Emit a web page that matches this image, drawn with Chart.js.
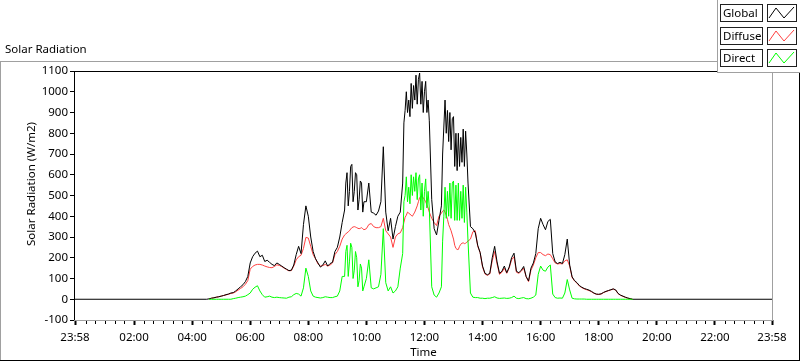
<!DOCTYPE html>
<html><head><meta charset="utf-8">
<script src="https://cdn.jsdelivr.net/npm/chart.js@4.4.0/dist/chart.umd.min.js"></script>
<style>html,body{margin:0;padding:0;background:#fff;overflow:hidden}#wrap{position:relative;width:800px;height:361px}</style>
</head><body><div id="wrap"><canvas id="c" width="800" height="361"></canvas></div>
<script>
const chartTitle = 'Solar Radiation';
const xTitle = 'Time';
const yTitle = 'Solar Radiation (W/m2)';
const seriesNames = ['Global', 'Diffuse', 'Direct'];
const seriesColors = ['#000000', '#ff4040', '#00ff00'];
const xTickMinutes = [-2, 120, 240, 360, 480, 600, 720, 840, 960, 1080, 1200, 1320, 1438];
const xTickLabels = ['23:58', '02:00', '04:00', '06:00', '08:00', '10:00', '12:00', '14:00', '16:00', '18:00', '20:00', '22:00', '23:58'];
const yMin = -100, yMax = 1100, yStep = 100;

// sample times, minutes after midnight (23:58 of the previous day = -2); one row per hour
const times = [-2,
  270, 275, 280, 285, 290, 295,
  300, 305, 310, 315, 320, 325, 330, 335, 340, 345, 350, 355,
  360, 365, 370, 375, 380, 385, 390, 395, 400, 405, 410, 415,
  420, 425, 430, 435, 440, 445, 450, 455, 460, 465, 470, 475,
  480, 485, 490, 495, 500, 505, 510, 515, 520, 525, 530, 535,
  540, 545, 550, 555, 557.5, 560, 562.5, 565, 567.5, 570, 572.5, 575, 577.5, 580, 582.5, 585, 587.5, 590, 592.5, 595,
  600, 605, 610, 615, 620, 625, 630, 635, 640, 645, 650, 655,
  660, 665, 670, 675, 677.5, 680, 682.5, 685, 687.5, 690, 692.5, 695, 697.5, 700, 702.5, 705, 707.5, 710, 712.5, 715, 717.5,
  720, 722.5, 725, 727.5, 730, 735, 740, 745, 750, 755, 757.5, 760, 762.5, 765, 767.5, 770, 772.5, 775, 777.5,
  780, 782.5, 785, 787.5, 790, 792.5, 795, 797.5, 800, 802.5, 805, 807.5, 810, 815, 820, 825, 830, 835,
  840, 845, 850, 855, 860, 865, 870, 875, 880, 885, 890, 895,
  900, 905, 910, 915, 920, 925, 930, 935, 940, 945, 950, 955,
  960, 965, 970, 975, 980, 985, 990, 995, 1000, 1005, 1010, 1015,
  1020, 1025, 1030, 1035, 1040, 1045, 1050, 1055, 1060, 1065, 1070, 1075,
  1080, 1085, 1090, 1095, 1100, 1105, 1110, 1115, 1120, 1125, 1130, 1135,
  1140, 1145, 1150,
  1438];

const globalRad = [0,
  0, 2, 5, 7, 10, 12,
  15, 18, 22, 25, 30, 32, 40, 50, 60, 70, 85, 110,
  175, 205, 222, 232, 205, 212, 182, 188, 178, 168, 162, 175,
  168, 160, 152, 145, 138, 140, 165, 215, 255, 220, 360, 450,
  400, 300, 230, 195, 175, 155, 165, 185, 160, 172, 178, 230,
  250, 300, 370, 430, 560, 610, 450, 520, 640, 650, 470, 520, 610, 600, 430, 480, 570, 560, 420, 470,
  470, 560, 420, 415, 405, 425, 470, 735, 420, 330, 390, 290,
  350, 400, 420, 560, 850, 910, 1000, 900, 960, 880, 1040, 920, 1030, 960, 1080, 940, 1060, 1090, 940, 1050, 900,
  1000, 1050, 900, 960, 860, 480, 340, 310, 380, 450, 700, 830, 960, 800, 910, 760, 900, 720, 870,
  880, 640, 800, 620, 800, 640, 780, 660, 820, 640, 810, 700, 560, 350, 340, 320, 260, 225,
  160, 125, 118, 125, 200, 255, 180, 125, 135, 160, 128, 155,
  200, 222, 135, 128, 140, 158, 110, 88, 150, 175, 220, 340,
  390, 360, 335, 375, 385, 220, 180, 172, 178, 172, 215, 290,
  165, 108, 90, 80, 66, 58, 52, 48, 44, 38, 30, 25,
  24, 26, 33, 38, 42, 46, 50, 45, 28, 20, 15, 10,
  6, 3, 0,
  0];

const diffuseRad = [null,
  null, 2, 5, 7, 10, 12,
  15, 18, 21, 24, 28, 30, 36, 44, 52, 60, 72, 90,
  145, 158, 165, 168, 168, 165, 160, 156, 153, 152, 158, 166,
  163, 158, 150, 143, 137, 138, 160, 190, 205, 212, 245, 298,
  295, 255, 215, 195, 170, 160, 162, 168, 160, 165, 175, 215,
  230, 255, 290, 310, 315, 320, 325, 330, 338, 345, 348, 350, 348, 345, 342, 340, 342, 345, 340, 335,
  340, 360, 365, 350, 345, 345, 350, 390, 330, 315, 300, 250,
  300, 315, 320, 345, 370, 395, 405, 420, 415, 410, 405, 400, 410, 420, 435, 450, 470, 490, 495, 495, 490,
  480, 470, 455, 440, 420, 390, 370, 355, 400, 415, 425, 430, 420, 405, 385, 360, 345, 330, 310,
  290, 260, 245, 240, 240, 255, 265, 270, 272, 268, 270, 275, 280, 290, 325, 330, 255, 225,
  155, 122, 115, 122, 185, 230, 170, 120, 130, 150, 125, 150,
  190, 205, 130, 125, 135, 150, 108, 85, 140, 165, 200, 225,
  225, 215, 210, 218, 215, 195, 175, 170, 172, 170, 185, 190,
  160, 105, 88, 78, 64, 56, 50, 46, 42, 36, 29, 24,
  23, 25, 32, 37, 41, 45, 49, 44, 27, 19, 14, 9,
  5, 2, 0,
  null];

const directRad = [null,
  null, 0, 0, 0, 0, 0,
  0, 0, 0, 0, 0, 3, 5, 8, 10, 12, 15, 22,
  30, 48, 58, 65, 40, 22, 10, 12, 15, 10, 8, 10,
  8, 7, 6, 5, 10, 12, 22, 28, 25, 15, 55, 150,
  110, 40, 15, 10, 8, 6, 8, 12, 10, 8, 8, 12,
  15, 40, 110, 110, 230, 260, 110, 180, 270, 250, 100, 140, 230, 200, 60, 90, 170, 150, 40, 60,
  100, 190, 55, 50, 55, 60, 120, 340, 80, 40, 60, 30,
  40, 60, 150, 220, 470, 500, 590, 470, 540, 460, 600, 500, 590, 520, 610, 480, 580, 600, 430, 560, 400,
  520, 580, 440, 520, 440, 60, 20, 10, 30, 60, 280, 400, 540, 390, 520, 400, 560, 390, 560,
  570, 380, 550, 380, 560, 380, 520, 390, 550, 370, 540, 420, 280, 30, 10, 8, 8, 5,
  5, 3, 5, 5, 8, 12, 6, 4, 5, 6, 4, 5,
  8, 15, 5, 3, 6, 8, 3, 2, 5, 10, 20, 120,
  160, 140, 135, 155, 165, 25, 8, 5, 6, 5, 30, 95,
  45, 5, 2, 1, 1, 1, 1, 0, 0, 0, 0, 0,
  0, 0, 0, 0, 0, 0, 0, 0, 0, 0, 0, 0,
  0, 0, 0,
  null];

const FONT_FAMILY = '"Noto Sans", "Open Sans", sans-serif';
const FONT_SIZE = 11.5;
const PLOT = {left: 75, top: 71, right: 772, bottom: 320};

function pts(vals) { return times.map((t, i) => ({x: t, y: vals[i]})); }

const framePlugin = {
  id: 'frame',
  beforeDraw(chart) {
    const ctx = chart.ctx;
    ctx.save();
    ctx.fillStyle = '#fff';
    ctx.fillRect(0, 0, chart.width, chart.height);
    ctx.restore();
  },
  afterDraw(chart) {
    const ctx = chart.ctx;
    const ca = chart.chartArea;
    const xs = chart.scales.x;
    ctx.save();
    // plot frame (sunken look)
    ctx.fillStyle = '#000';
    ctx.fillRect(ca.left - 1, ca.top, ca.right - ca.left + 1, 1);
    ctx.fillRect(ca.left - 1, ca.top, 1, ca.bottom - ca.top + 1);
    ctx.fillStyle = '#a0a0a0';
    ctx.fillRect(ca.right, ca.top, 1, ca.bottom - ca.top + 1);
    ctx.fillRect(ca.left - 1, ca.bottom, ca.right - ca.left + 2, 1);
    // minor x ticks every 20 minutes
    ctx.fillStyle = '#000';
    for (let m = 20; m < 1438; m += 20) {
      if (m % 120 === 0) continue;
      const px = Math.round(xs.getPixelForValue(m));
      ctx.fillRect(px, ca.bottom + 1, 1, 3);
    }
    // outer frame
    ctx.fillStyle = '#a0a0a0';
    ctx.fillRect(0, 61, 717, 1);
    ctx.fillRect(0, 61, 1, 300);
    ctx.fillStyle = '#000';
    ctx.fillRect(0, 360, 800, 1);
    ctx.fillRect(799, 72, 1, 289);
    // texts
    ctx.fillStyle = '#000';
    ctx.font = FONT_SIZE + 'px ' + FONT_FAMILY;
    ctx.textBaseline = 'middle';
    ctx.textAlign = 'left';
    ctx.fillText(chartTitle, 5, 50);
    ctx.textAlign = 'center';
    ctx.fillText(xTitle, (ca.left + ca.right) / 2, 353);
    ctx.save();
    ctx.translate(32, 184);
    ctx.rotate(-Math.PI / 2);
    ctx.fillText(yTitle, 0, 0);
    ctx.restore();
    // legend panel
    ctx.fillStyle = '#fff';
    ctx.fillRect(718, 0, 82, 72);
    ctx.fillStyle = '#a0a0a0';
    ctx.fillRect(717, 0, 1, 73);
    ctx.fillRect(717, 72, 83, 1);
    chart.data.datasets.forEach((ds, i) => {
      const y0 = 4 + i * 22.5;
      const h = 17;
      const ry = Math.round(y0);
      ctx.strokeStyle = '#202020';
      ctx.lineWidth = 1;
      ctx.strokeRect(720.5, ry + 0.5, 42, h);
      ctx.strokeRect(767.5, ry + 0.5, 29, h);
      ctx.fillStyle = '#000';
      ctx.textAlign = 'left';
      ctx.textBaseline = 'middle';
      ctx.fillText(ds.label, 723, ry + h / 2 + 1);
      ctx.strokeStyle = ds.borderColor;
      ctx.beginPath();
      ctx.moveTo(769, ry + h - 3);
      ctx.lineTo(776, ry + 4);
      ctx.lineTo(784, ry + h - 3);
      ctx.lineTo(794, ry + 3);
      ctx.stroke();
    });
    ctx.restore();
  }
};

new Chart(document.getElementById('c'), {
  type: 'line',
  data: {
    datasets: [
      {label: seriesNames[0], data: pts(globalRad), borderColor: seriesColors[0], order: 1},
      {label: seriesNames[1], data: pts(diffuseRad), borderColor: seriesColors[1], order: 2},
      {label: seriesNames[2], data: pts(directRad), borderColor: seriesColors[2], order: 0}
    ]
  },
  options: {
    responsive: false,
    animation: false,
    events: [],
    spanGaps: false,
    elements: {
      point: {radius: 0},
      line: {borderWidth: 1, tension: 0, fill: false}
    },
    layout: {padding: {left: 0, top: PLOT.top, right: 800 - PLOT.right, bottom: 0}},
    plugins: {legend: {display: false}, tooltip: {enabled: false}, title: {display: false}},
    scales: {
      x: {
        type: 'linear', min: -2, max: 1438,
        afterBuildTicks: s => { s.ticks = xTickMinutes.map(v => ({value: v})); },
        afterFit: s => { s.height = 361 - PLOT.bottom; },
        grid: {drawOnChartArea: false, drawTicks: true, tickLength: 5, tickColor: '#000', tickWidth: 2},
        border: {display: false},
        ticks: {
          autoSkip: false, maxRotation: 0, padding: 6, color: '#000',
          font: {family: FONT_FAMILY, size: FONT_SIZE},
          callback: v => { const k = xTickMinutes.indexOf(v); return k >= 0 ? xTickLabels[k] : ''; }
        }
      },
      y: {
        type: 'linear', min: yMin, max: yMax,
        afterFit: s => { s.width = PLOT.left; },
        grid: {drawOnChartArea: false, drawTicks: true, tickLength: 5, tickColor: '#000'},
        border: {display: false},
        ticks: {stepSize: yStep, padding: 2, color: '#000', font: {family: FONT_FAMILY, size: FONT_SIZE},
          callback: v => String(v)}
      }
    }
  },
  plugins: [framePlugin]
});
</script>
</body></html>
